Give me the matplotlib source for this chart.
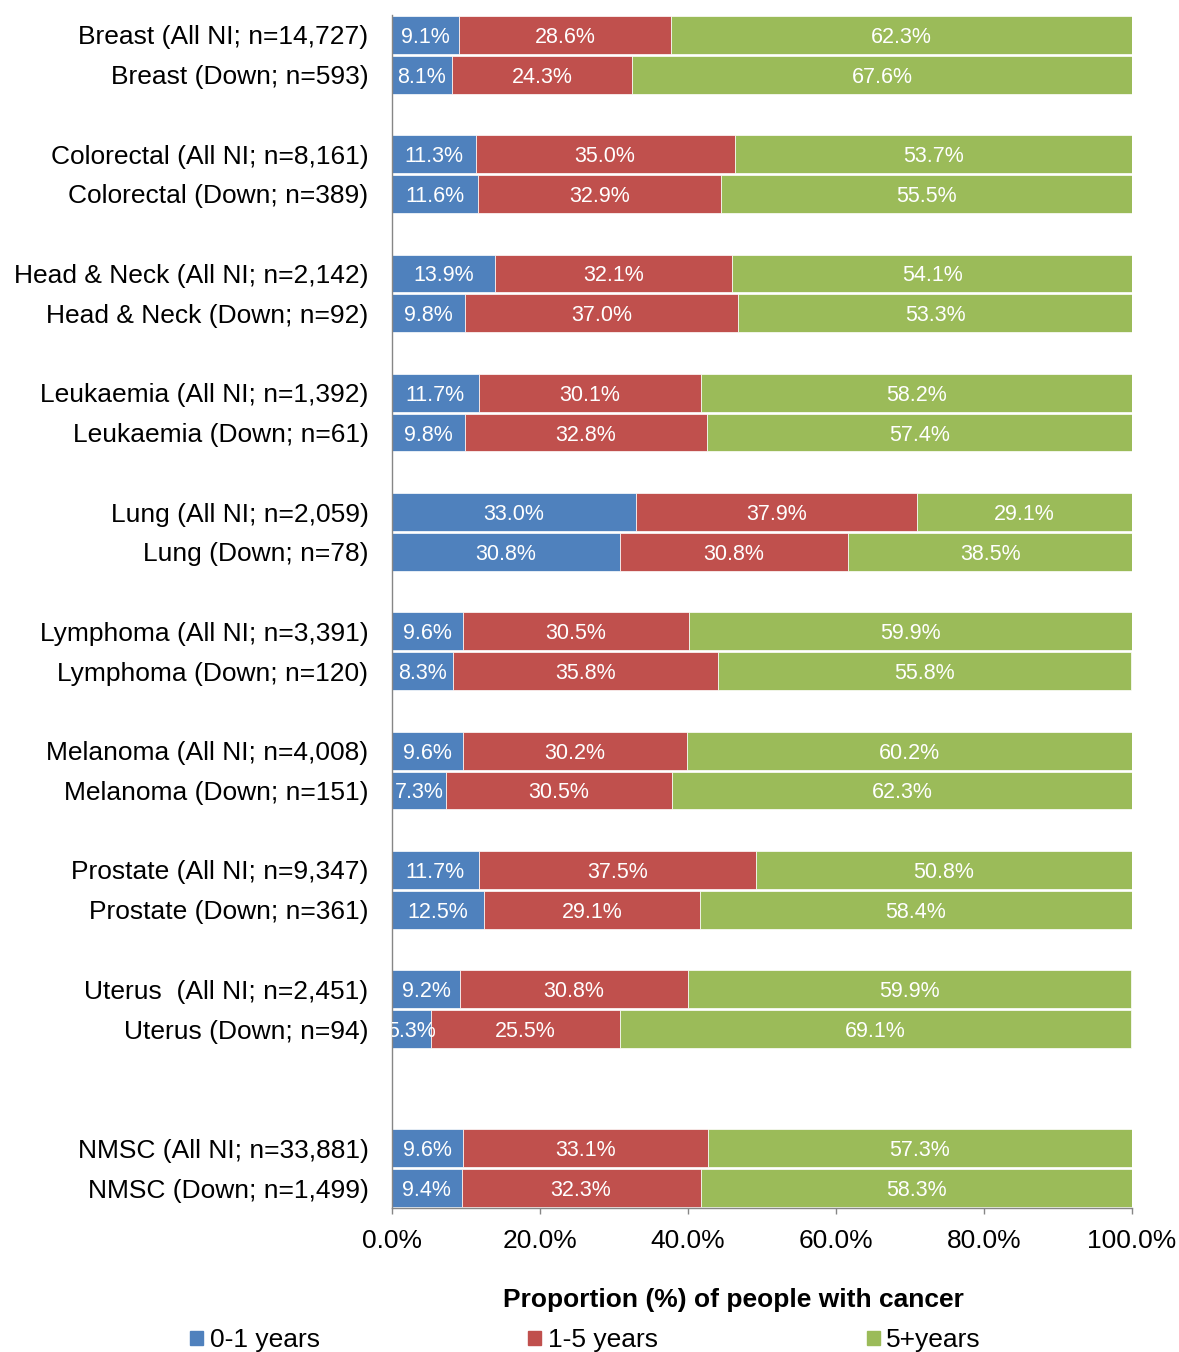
import matplotlib
matplotlib.use("Agg")
import matplotlib.pyplot as plt
from matplotlib.patches import Patch

plt.rcParams['font.family'] = ['Liberation Sans', 'DejaVu Sans']

# Dados
labels = ["Breast (All NI; n=14,727)", "Breast (Down; n=593)",
          "Colorectal (All NI; n=8,161)", "Colorectal (Down; n=389)",
          "Head & Neck (All NI; n=2,142)", "Head & Neck (Down; n=92)",
          "Leukaemia (All NI; n=1,392)", "Leukaemia (Down; n=61)",
          "Lung (All NI; n=2,059)", "Lung (Down; n=78)",
          "Lymphoma (All NI; n=3,391)", "Lymphoma (Down; n=120)",
          "Melanoma (All NI; n=4,008)", "Melanoma (Down; n=151)",
          "Prostate (All NI; n=9,347)", "Prostate (Down; n=361)",
          "Uterus  (All NI; n=2,451)", "Uterus (Down; n=94)",
          "NMSC (All NI; n=33,881)", "NMSC (Down; n=1,499)"]
y0_1 = [9.1, 8.1, 11.3, 11.6, 13.9, 9.8, 11.7, 9.8, 33.0, 30.8,
        9.6, 8.3, 9.6, 7.3, 11.7, 12.5, 9.2, 5.3, 9.6, 9.4]
y1_5 = [28.6, 24.3, 35.0, 32.9, 32.1, 37.0, 30.1, 32.8, 37.9, 30.8,
        30.5, 35.8, 30.2, 30.5, 37.5, 29.1, 30.8, 25.5, 33.1, 32.3]
y5p = [62.3, 67.6, 53.7, 55.5, 54.1, 53.3, 58.2, 57.4, 29.1, 38.5,
       59.9, 55.8, 60.2, 62.3, 50.8, 58.4, 59.9, 69.1, 57.3, 58.3]
series_names = ['0-1 years', '1-5 years', '5+years']
colors = ['#4F81BD', '#C0504D', '#9BBB59']
xticks = [0, 20, 40, 60, 80, 100]

# posições das linhas: pares separados por uma linha em branco,
# e uma linha extra antes do NMSC
pos = []
p = 0
for i in range(0, len(labels), 2):
    if i > 0:
        p += 1
    if labels[i].startswith('NMSC'):
        p += 1
    pos += [p, p + 1]
    p += 2

fig = plt.figure(figsize=(11.79, 13.52), dpi=100)
ax = fig.add_axes([392 / 1179, 1 - 1208 / 1352, 740 / 1179, 1193 / 1352])

left = [0.0] * len(labels)
for vals, name, c in zip([y0_1, y1_5, y5p], series_names, colors):
    ax.barh(pos, vals, left=left, height=0.95, color=c,
            edgecolor='white', linewidth=0.5, label=name)
    for y, l, v in zip(pos, left, vals):
        ax.text(l + v / 2, y, '%.1f%%' % v, ha='center', va='center_baseline',
                color='white', fontsize=15.5, clip_on=True)
    left = [a + b for a, b in zip(left, vals)]

ax.set_xlim(0, 100)
ax.set_ylim(pos[-1] + 0.5, -0.5)
ax.set_yticks(pos)
ax.set_yticklabels(labels, fontsize=19)
ax.set_xticks(xticks)
ax.set_xticklabels(['%.1f%%' % t for t in xticks], fontsize=19)
ax.tick_params(axis='y', length=0, pad=17)
ax.tick_params(axis='x', length=4.3, width=1, color='#868686', pad=11)
for s in ['top', 'right']:
    ax.spines[s].set_visible(False)
for s in ['left', 'bottom']:
    ax.spines[s].set_color('#868686')
    ax.spines[s].set_linewidth(1.0)

fig.text(733 / 1179, 1 - 1300 / 1352, 'Proportion (%) of people with cancer',
         ha='center', va='center', fontsize=19, fontweight='bold')

handles = [Patch(color=c) for c in colors]
fig.legend(handles, series_names, loc='center left',
           bbox_to_anchor=(190 / 1179, 1 - 1340 / 1352), ncol=3,
           frameon=False, fontsize=19, borderpad=0, borderaxespad=0,
           handlelength=0.5, handleheight=0.45, handletextpad=0.25,
           columnspacing=7.9)

fig.savefig('out.png', dpi=100)
